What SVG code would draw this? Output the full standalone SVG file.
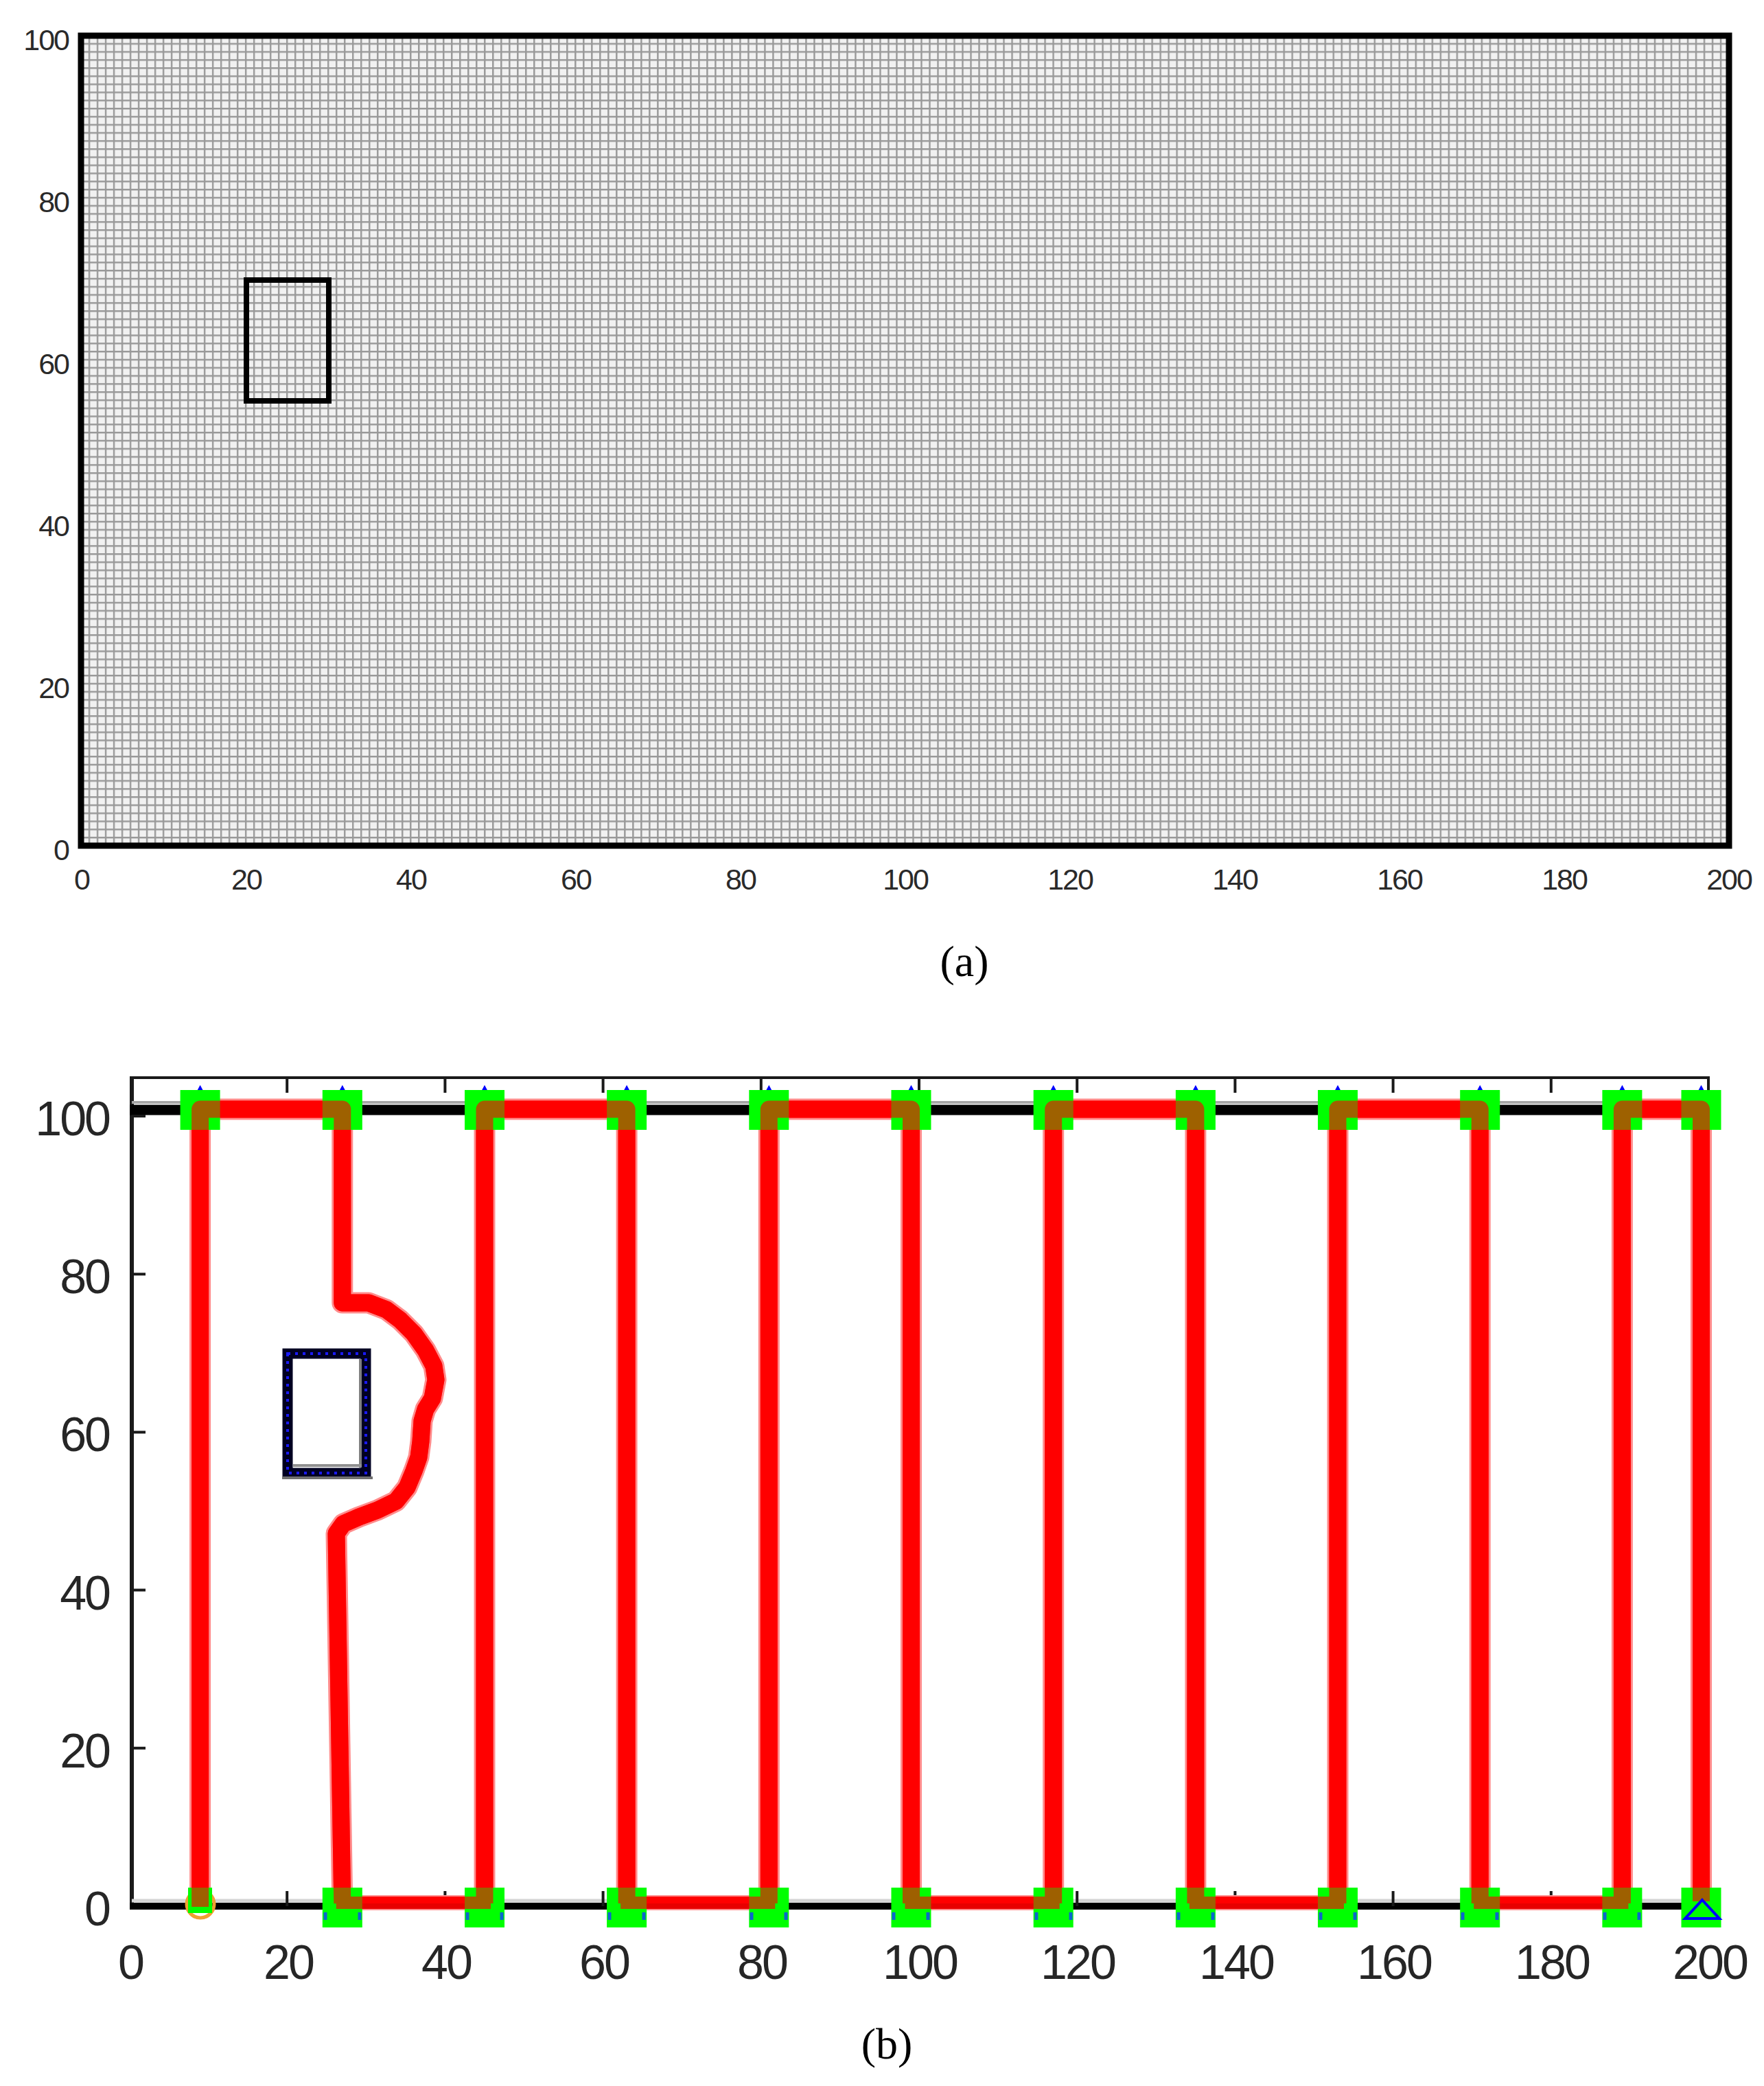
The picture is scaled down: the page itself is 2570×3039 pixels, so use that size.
<svg xmlns="http://www.w3.org/2000/svg" width="2570" height="3039" viewBox="0 0 2570 3039">
<style>
.lblA{font-family:"Liberation Sans",Arial,sans-serif;font-size:43px;fill:#2a2a2a;letter-spacing:-2px}
.lblB{font-family:"Liberation Sans",Arial,sans-serif;font-size:70px;fill:#262626;letter-spacing:-3px}
.cap{font-family:"Liberation Serif","Times New Roman",serif;font-size:64px;fill:#000}
.halo{fill:none;stroke:#ff8c8c;stroke-linejoin:round}
.core{fill:none;stroke:#ff0000;stroke-linejoin:round}
.tri{fill:none;stroke:#0000ff;stroke-width:4;stroke-linejoin:miter}
.ax{stroke:#1a1a1a;fill:none}
</style>
<defs>
<pattern id="grid" x="116.8" y="50.8" width="12.005" height="11.8" patternUnits="userSpaceOnUse">
<rect width="12.005" height="11.8" fill="#f1f1f1"/>
<path d="M0 1.2H12.005M1.2 0V11.8" stroke="#999999" stroke-width="2.4" fill="none"/>
</pattern>
<rect id="sq" x="-29" y="-29" width="58" height="58" fill="#00ff00"/>
<path id="triT" d="M0 -32L24 13L-24 13Z" class="tri"/>
<path id="triB" d="M0 -11L25 16L-25 16Z" class="tri"/>
</defs>
<rect width="2570" height="3039" fill="#ffffff"/>

<g id="panel-a">
<rect id="grid-map" x="118" y="52" width="2401" height="1180" fill="url(#grid)"/>
<rect id="border-a" x="118" y="52" width="2401" height="1180" fill="none" stroke="#000" stroke-width="9"/>
<rect id="obstacle-a" x="359" y="408" width="120" height="176" fill="none" stroke="#000" stroke-width="8"/>
<g id="yticks-a" class="lblA" text-anchor="end">
<text x="100" y="73">100</text>
<text x="100" y="309">80</text>
<text x="100" y="545">60</text>
<text x="100" y="781">40</text>
<text x="100" y="1017">20</text>
<text x="100" y="1253">0</text>
</g>
<g id="xticks-a" class="lblA" text-anchor="middle">
<text x="119" y="1296">0</text>
<text x="359" y="1296">20</text>
<text x="599" y="1296">40</text>
<text x="839" y="1296">60</text>
<text x="1079" y="1296">80</text>
<text x="1319" y="1296">100</text>
<text x="1559" y="1296">120</text>
<text x="1799" y="1296">140</text>
<text x="2039" y="1296">160</text>
<text x="2279" y="1296">180</text>
<text x="2519" y="1296">200</text>
</g>
<text id="caption-a" class="cap" x="1405" y="1422" text-anchor="middle">(a)</text>
</g>

<g id="panel-b">
<g id="axes-b">
<line x1="189" y1="1570" x2="2491" y2="1570" class="ax" stroke-width="4"/>
<line x1="192" y1="1568" x2="192" y2="2782" class="ax" stroke-width="6"/>
<line x1="2489" y1="1568" x2="2489" y2="2782" class="ax" stroke-width="4"/>
<line x1="192" y1="1606" x2="2489" y2="1606" stroke="#a6a6a6" stroke-width="4"/>
<line x1="189" y1="1617" x2="2489" y2="1617" stroke="#000" stroke-width="15"/>
<line x1="192" y1="2769" x2="2489" y2="2769" stroke="#d4d4d4" stroke-width="5"/>
<line x1="189" y1="2777" x2="2489" y2="2777" stroke="#000" stroke-width="10"/>
<path class="ax" stroke-width="4" d="M418.2 1570V1592M648.4 1570V1592M878.6 1570V1592M1108.8 1570V1592M1339 1570V1592M1569.2 1570V1592M1799.4 1570V1592M2029.6 1570V1592M2259.8 1570V1592M418.2 2777V2755M648.4 2777V2755M878.6 2777V2755M1108.8 2777V2755M1339 2777V2755M1569.2 2777V2755M1799.4 2777V2755M2029.6 2777V2755M2259.8 2777V2755M192 1626H212M192 1856.2H212M192 2086.4H212M192 2316.6H212M192 2546.8H212"/>
</g>
<g id="obstacle-b">
<rect x="419" y="1972" width="114" height="174" fill="none" stroke="#000022" stroke-width="15"/>
<line x1="525" y1="1980" x2="525" y2="2138" stroke="#808080" stroke-width="4"/>
<line x1="427" y1="2135" x2="527" y2="2135" stroke="#909090" stroke-width="4"/>
<line x1="411" y1="2153" x2="543" y2="2153" stroke="#707070" stroke-width="4"/>
<rect x="419" y="1972" width="114" height="174" fill="none" stroke="#1a1aff" stroke-width="4" stroke-dasharray="4 7"/>
</g>
<g id="start-marker">
<circle cx="292" cy="2774" r="20" fill="none" stroke="#f0a030" stroke-width="5"/>
</g>
<g id="connectors">
<path class="halo" stroke-width="31" d="M291.6 2778V1616H498.8V1898L537 1898L563 1908L583 1923L603 1943L620 1967L632 1990L635 2010L630 2037L620 2053L615 2070L613 2100L610 2123L603 2143L593 2167L577 2187L550 2200L523 2210L500 2220L490 2234L498.8 2773M706 2773V1616H913.1V2773M1120.3 2773V1616H1327.5V2773M1534.7 2773V1616H1741.9V2773M1949 2773V1616H2156.2V2773M2363.4 2773V1616H2478.5V2770"/>
<path class="core" stroke-width="25" d="M291.6 2778V1616H498.8V1898L537 1898L563 1908L583 1923L603 1943L620 1967L632 1990L635 2010L630 2037L620 2053L615 2070L613 2100L610 2123L603 2143L593 2167L577 2187L550 2200L523 2210L500 2220L490 2234L498.8 2773M706 2773V1616H913.1V2773M1120.3 2773V1616H1327.5V2773M1534.7 2773V1616H1741.9V2773M1949 2773V1616H2156.2V2773M2363.4 2773V1616H2478.5V2770"/>
<path class="halo" stroke-width="22" stroke-linecap="square" d="M498.8 2772H706M913.1 2772H1120.3M1327.5 2772H1534.7M1741.9 2772H1949M2156.2 2772H2363.4"/>
<path class="core" stroke-width="18" stroke-linecap="square" d="M498.8 2772H706M913.1 2772H1120.3M1327.5 2772H1534.7M1741.9 2772H1949M2156.2 2772H2363.4"/>
<path fill="none" stroke="#9a0000" stroke-width="8" stroke-opacity="0.6" d="M512 2777H700M926 2777H1114M1340 2777H1528M1755 2777H1943M2169 2777H2357"/>
</g>
<g id="waypoints">
<g id="tri-top">
<use href="#triT" x="291.6" y="1617"/><use href="#triT" x="498.8" y="1617"/><use href="#triT" x="706" y="1617"/><use href="#triT" x="913.1" y="1617"/><use href="#triT" x="1120.3" y="1617"/><use href="#triT" x="1327.5" y="1617"/><use href="#triT" x="1534.7" y="1617"/><use href="#triT" x="1741.9" y="1617"/><use href="#triT" x="1949" y="1617"/><use href="#triT" x="2156.2" y="1617"/><use href="#triT" x="2363.4" y="1617"/><use href="#triT" x="2478.5" y="1617"/>
</g>
<g id="wp-top">
<use href="#sq" x="291.6" y="1617"/><use href="#sq" x="498.8" y="1617"/><use href="#sq" x="706" y="1617"/><use href="#sq" x="913.1" y="1617"/><use href="#sq" x="1120.3" y="1617"/><use href="#sq" x="1327.5" y="1617"/><use href="#sq" x="1534.7" y="1617"/><use href="#sq" x="1741.9" y="1617"/><use href="#sq" x="1949" y="1617"/><use href="#sq" x="2156.2" y="1617"/><use href="#sq" x="2363.4" y="1617"/><use href="#sq" x="2478.5" y="1617"/>
</g>
<g id="wp-bottom">
<rect x="274" y="2750" width="35" height="37" fill="#00ff00"/>
<use href="#sq" x="498.8" y="2779"/><use href="#sq" x="706" y="2779"/><use href="#sq" x="913.1" y="2779"/><use href="#sq" x="1120.3" y="2779"/><use href="#sq" x="1327.5" y="2779"/><use href="#sq" x="1534.7" y="2779"/><use href="#sq" x="1741.9" y="2779"/><use href="#sq" x="1949" y="2779"/><use href="#sq" x="2156.2" y="2779"/><use href="#sq" x="2363.4" y="2779"/><use href="#sq" x="2478.5" y="2779"/>
</g>
<g id="tri-bottom-hint" opacity="0.8">
<path d="M474 2786V2797M524 2786V2797M681 2786V2797M731 2786V2797M888 2786V2797M938 2786V2797M1095 2786V2797M1145 2786V2797M1302 2786V2797M1352 2786V2797M1510 2786V2797M1560 2786V2797M1717 2786V2797M1767 2786V2797M1924 2786V2797M1974 2786V2797M2131 2786V2797M2181 2786V2797M2338 2786V2797M2388 2786V2797" stroke="#1040ff" stroke-width="5"/>
</g>
</g>
<g id="path-overlay" opacity="0.62">
<path class="core" stroke-width="25" d="M291.6 2778V1616H498.8V1898L537 1898L563 1908L583 1923L603 1943L620 1967L632 1990L635 2010L630 2037L620 2053L615 2070L613 2100L610 2123L603 2143L593 2167L577 2187L550 2200L523 2210L500 2220L490 2234L498.8 2773M706 2773V1616H913.1V2773M1120.3 2773V1616H1327.5V2773M1534.7 2773V1616H1741.9V2773M1949 2773V1616H2156.2V2773M2363.4 2773V1616H2478.5V2770"/>
<path class="core" stroke-width="18" stroke-linecap="square" d="M498.8 2772H706M913.1 2772H1120.3M1327.5 2772H1534.7M1741.9 2772H1949M2156.2 2772H2363.4"/>
</g>
<g id="goal-marker">
<path d="M2480 2768L2505 2795H2455Z" class="tri"/>
</g>
<g id="yticks-b" class="lblB" text-anchor="end">
<text x="159" y="1654">100</text>
<text x="159" y="1884">80</text>
<text x="159" y="2114">60</text>
<text x="159" y="2345">40</text>
<text x="159" y="2575">20</text>
<text x="159" y="2805">0</text>
</g>
<g id="xticks-b" class="lblB" text-anchor="middle">
<text x="190" y="2883">0</text>
<text x="420" y="2883">20</text>
<text x="650" y="2883">40</text>
<text x="880" y="2883">60</text>
<text x="1110" y="2883">80</text>
<text x="1340" y="2883">100</text>
<text x="1570" y="2883">120</text>
<text x="1801" y="2883">140</text>
<text x="2031" y="2883">160</text>
<text x="2261" y="2883">180</text>
<text x="2491" y="2883">200</text>
</g>
<text id="caption-b" class="cap" x="1292" y="2999" text-anchor="middle">(b)</text>
</g>
</svg>
